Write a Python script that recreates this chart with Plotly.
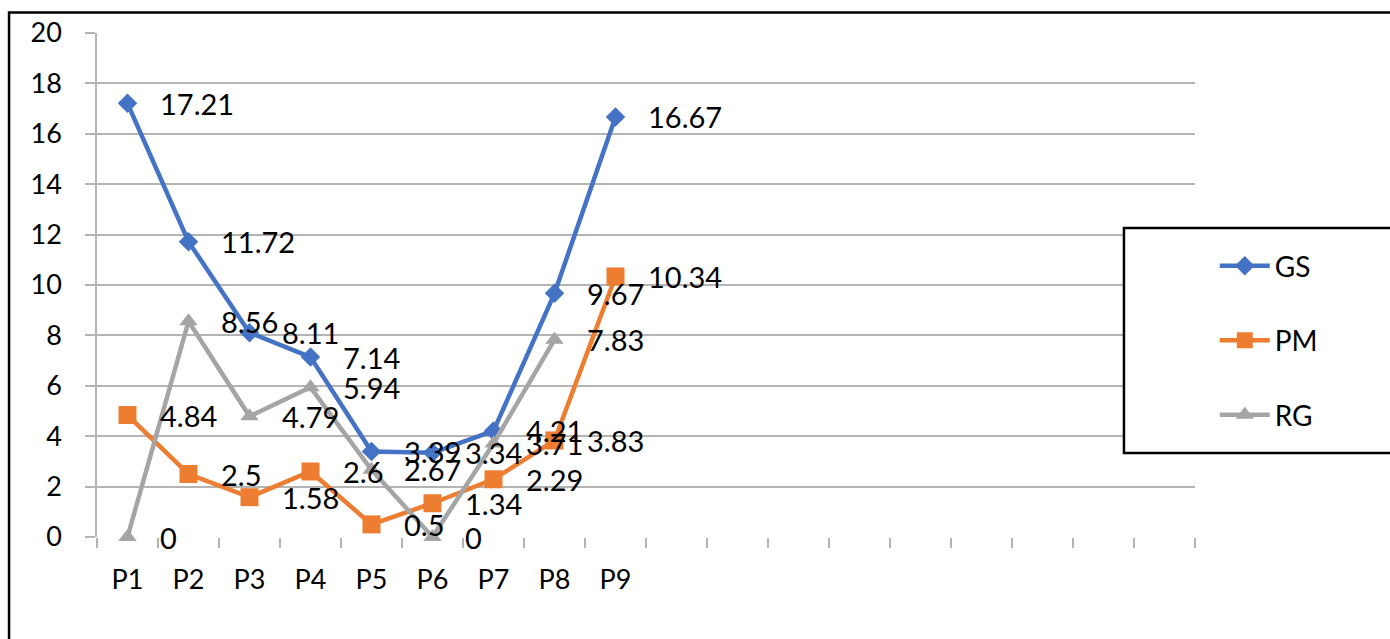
import plotly.graph_objects as go

# Category axis: nine sampled points plus nine unused slots
categories = ["P1", "P2", "P3", "P4", "P5", "P6", "P7", "P8", "P9"]
spare_slots = [" " * k for k in range(1, 10)]

gs_values = [17.21, 11.72, 8.11, 7.14, 3.39, 3.34, 4.21, 9.67, 16.67]
pm_values = [4.84, 2.5, 1.58, 2.6, 0.5, 1.34, 2.29, 3.83, 10.34]
rg_values = [0, 8.56, 4.79, 5.94, 2.67, 0, 3.71, 7.83]

y_ticks = list(range(0, 21, 2))

series = [
    ("GS", gs_values, "#4472C4", "diamond", 15),
    ("PM", pm_values, "#ED7D31", "square", 18),
    ("RG", rg_values, "#A5A5A5", "triangle-up", 16),
]

FONT = "Lato, 'Open Sans', sans-serif"
FS_TICK = 27
FS_LABEL = 29
FS_LEGEND = 28
GRID = "#B4B4B4"

fig = go.Figure()
annotations = []
for name, vals, color, symbol, msize in series:
    xs = categories[: len(vals)]
    fig.add_trace(go.Scatter(
        x=xs, y=vals, name=name, legendgroup=name,
        mode="lines+markers",
        line=dict(color=color, width=4.5),
        marker=dict(symbol=symbol, size=msize, color=color),
        cliponaxis=False,
        hoverinfo="skip",
    ))
    for x, v in zip(xs, vals):
        annotations.append(dict(
            x=x, y=v, xref="x", yref="y", text=f"{v:g}",
            showarrow=False, xanchor="left", yanchor="middle",
            xshift=30, font=dict(family=FONT, size=FS_LABEL, color="#000000"),
        ))

shapes = [
    # outer frame
    dict(type="rect", xref="paper", yref="paper",
         x0=-0.0801, x1=1.19, y0=-0.23, y1=1.0407,
         line=dict(color="#000000", width=2.5), layer="above"),
    # legend frame
    dict(type="rect", xref="paper", yref="paper",
         x0=0.9353, x1=1.19, y0=0.1667, y1=0.6131,
         line=dict(color="#000000", width=2.5), fillcolor="white", layer="above"),
]

fig.update_layout(
    width=1390, height=639,
    margin=dict(l=97, r=195, t=33, b=102),
    paper_bgcolor="white", plot_bgcolor="white",
    font=dict(family=FONT, size=FS_TICK, color="#000000"),
    showlegend=True,
    legend=dict(
        x=1.018, y=0.587, xanchor="left", yanchor="top",
        bgcolor="rgba(0,0,0,0)", borderwidth=0,
        itemwidth=50,
        tracegroupgap=35, font=dict(family=FONT, size=FS_LEGEND),
    ),
    annotations=annotations,
    shapes=shapes,
    xaxis=dict(
        type="category",
        categoryorder="array", categoryarray=categories + spare_slots,
        range=[-0.5, 17.5],
        tickson="boundaries", ticks="outside", ticklen=10,
        tickcolor=GRID, tickwidth=1.5, tickangle=0,
        showgrid=False, showline=False, zeroline=False,
        ticklabelstandoff=24,
        tickfont=dict(family=FONT, size=FS_TICK),
    ),
    yaxis=dict(
        range=[0, 20], tickvals=y_ticks,
        showgrid=True, gridcolor=GRID, gridwidth=1.5,
        ticks="outside", ticklen=10, tickcolor=GRID, tickwidth=1.5,
        showline=True, linecolor=GRID, linewidth=1.5,
        zeroline=False,
        ticklabelstandoff=18,
        tickfont=dict(family=FONT, size=FS_TICK),
    ),
)

fig.write_html("out.html")
